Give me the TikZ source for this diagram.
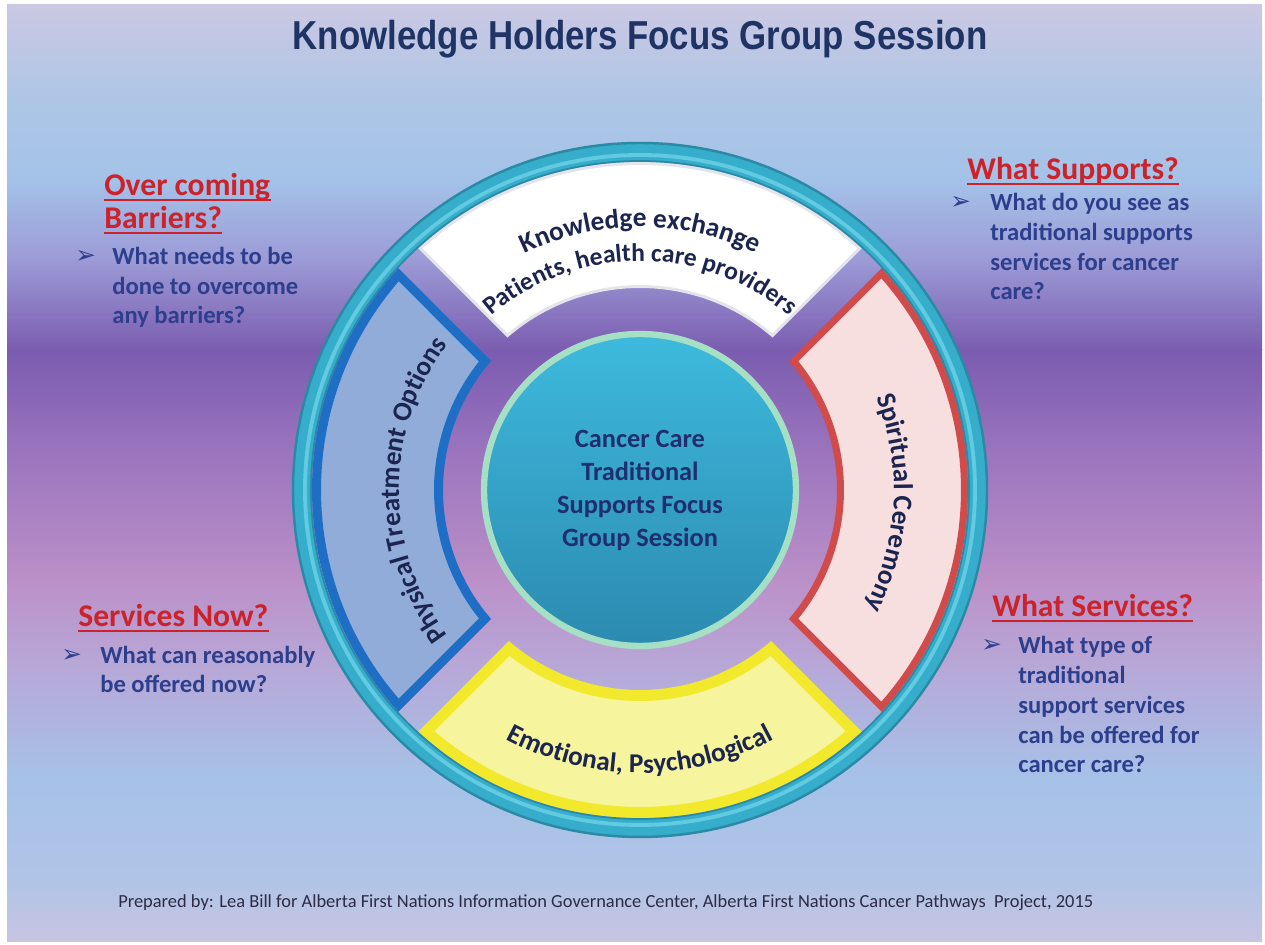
\documentclass[tikz,border=0pt]{standalone}
\usepackage{fontspec}
\setmainfont{Carlito}
\newfontfamily\titlefont{Liberation Sans}
\newfontfamily\symfont{DejaVu Sans}
\usetikzlibrary{decorations.text}
\definecolor{bgA}{HTML}{CBC8E3}
\definecolor{bgB}{HTML}{ADC6E6}
\definecolor{bgC}{HTML}{A4C2E8}
\definecolor{bgD}{HTML}{9C9AD6}
\definecolor{bgE}{HTML}{7B5CB0}
\definecolor{bgF}{HTML}{9A74BE}
\definecolor{bgG}{HTML}{BB90C8}
\definecolor{bgH}{HTML}{B8A6D6}
\definecolor{bgI}{HTML}{A6C2E8}
\definecolor{bgJ}{HTML}{B0C4E6}
\definecolor{bgK}{HTML}{C9C4E2}
\definecolor{titlec}{HTML}{1F3464}
\definecolor{headred}{HTML}{CC2229}
\definecolor{questc}{HTML}{2C3E8C}
\definecolor{segtext}{HTML}{1B2550}
\definecolor{centertext}{HTML}{1F2E6E}
\definecolor{footc}{HTML}{2B2B45}
\definecolor{segwhite}{HTML}{FFFFFF}
\definecolor{segwhiteline}{HTML}{E4E4EA}
\definecolor{segblue}{HTML}{92ACD9}
\definecolor{segblueline}{HTML}{1F6EC6}
\definecolor{segpink}{HTML}{F7DEDF}
\definecolor{segredline}{HTML}{D24B4B}
\definecolor{segyellow}{HTML}{F6F49C}
\definecolor{segyellowline}{HTML}{F2E82C}
\definecolor{ringc}{HTML}{36AECB}
\definecolor{ringdark}{HTML}{2A8AA6}
\definecolor{ringlight}{HTML}{62CBE2}
\definecolor{diskTop}{HTML}{3DBADD}
\definecolor{diskBot}{HTML}{2C8AB0}
\definecolor{rimgreen}{HTML}{A6E0C4}
\newcommand{\segfont}{\bfseries\fontsize{15.5}{18}\selectfont}
\newcommand{\segfontsm}{\bfseries\fontsize{14.5}{17}\selectfont}
% annular segment between two 45-degree gap bands
\newcommand{\ringseg}[6]{%
  \pgfmathsetmacro{\rsRi}{(#3)+(#6)/2}%
  \pgfmathsetmacro{\rsRo}{(#4)-(#6)/2}%
  \pgfmathsetmacro{\rsW}{(#5)+(#6)/2}%
  \pgfmathsetmacro{\rsLW}{(#6)*0.569}%
  \pgfmathsetmacro{\rsdA}{asin(\rsW/\rsRo)}%
  \pgfmathsetmacro{\rsdB}{asin(\rsW/\rsRi)}%
  \pgfmathsetmacro{\rsaOs}{(#2)+45-\rsdA}%
  \pgfmathsetmacro{\rsaOe}{(#2)-45+\rsdA}%
  \pgfmathsetmacro{\rsaIs}{(#2)-45+\rsdB}%
  \pgfmathsetmacro{\rsaIe}{(#2)+45-\rsdB}%
  \path[#1, line width=\rsLW pt] (\rsaOs:\rsRo) arc[start angle=\rsaOs, end angle=\rsaOe, radius=\rsRo]
    -- (\rsaIs:\rsRi) arc[start angle=\rsaIs, end angle=\rsaIe, radius=\rsRi] -- cycle;}
\tikzset{
  head/.style={font=\bfseries\fontsize{18}{21}\selectfont, text=headred, inner sep=0pt, anchor=base west},
  headline/.style={draw=headred, line width=1.1pt},
  quest/.style={font=\bfseries\fontsize{14}{17}\selectfont, text=questc, inner sep=0pt, align=left, anchor=base west},
  bulletmark/.style={font=\symfont\fontsize{14}{16}\selectfont, text=questc, inner sep=0pt, anchor=base west},
  segtxt/.style={decorate, decoration={text along path, text align=center, text color=segtext, text={#1}}}
}
\begin{document}
\begin{tikzpicture}[x=0.02cm,y=0.02cm]
\useasboundingbox (0,0) rectangle (1265,945);
\fill[white] (0,0) rectangle (1265,945);
% background gradient (y up: Y = 945 - py)
\shade[top color=bgA, bottom color=bgB] (7,940) rectangle (1262,844);
\shade[top color=bgB, bottom color=bgC] (7,845) rectangle (1262,764);
\shade[top color=bgC, bottom color=bgD] (7,765) rectangle (1262,684);
\shade[top color=bgD, bottom color=bgE] (7,685) rectangle (1262,594);
\shade[top color=bgE, bottom color=bgF] (7,595) rectangle (1262,494);
\shade[top color=bgF, bottom color=bgG] (7,495) rectangle (1262,364);
\shade[top color=bgG, bottom color=bgH] (7,365) rectangle (1262,284);
\shade[top color=bgH, bottom color=bgI] (7,285) rectangle (1262,164);
\shade[top color=bgI, bottom color=bgJ] (7,165) rectangle (1262,64);
\shade[top color=bgJ, bottom color=bgK] (7,65) rectangle (1262,3);

% title
\node[anchor=base, inner sep=0pt, text=titlec] (title) at (640,895)
  {\resizebox{13.9cm}{\height}{\titlefont\bfseries\fontsize{23}{27}\selectfont Knowledge Holders Focus Group Session}};

\begin{scope}[shift={(640,455)}]
  % segments
  \ringseg{fill=segwhite, draw=segwhiteline}{90}{202}{328}{14}{3}
  \ringseg{fill=segblue, draw=segblueline}{180}{197}{328}{14}{9}
  \ringseg{fill=segpink, draw=segredline}{0}{197}{328}{14}{7}
  \ringseg{fill=segyellow, draw=segyellowline}{270}{200}{328}{14}{11}
  % outer ring
  \draw[ringc, line width=10.4pt] (0,0) circle[radius=338];
  \draw[ringlight, line width=2.2pt] (0,0) circle[radius=335];
  \draw[ringdark, line width=1.4pt] (0,0) circle[radius=347];
  \draw[ringdark, line width=1pt] (0,0) circle[radius=329];
  % segment texts
  \path[segtxt={|\segfont|Knowledge exchange}] (135:263) arc[start angle=135, end angle=45, radius=263];
  \path[segtxt={|\segfontsm|Patients, health care providers}] (140:229) arc[start angle=140, end angle=40, radius=229];
  \path[segtxt={|\segfont|Physical Treatment Options}] (230:241) arc[start angle=230, end angle=130, radius=241];
  \path[segtxt={|\segfont|Spiritual Ceremony}] (42:254) arc[start angle=42, end angle=-48, radius=254];
  \path[segtxt={|\segfont|Emotional, Psychological}] (220:283) arc[start angle=220, end angle=320, radius=283];
  % center disk
  \draw[draw=ringdark!60, line width=0.8pt] (0,0) circle[radius=158];
  \node[circle, inner sep=0pt, outer sep=0pt, minimum size=6.24cm, draw=rimgreen, line width=3.6pt,
        top color=diskTop, bottom color=diskBot, align=center, text=centertext,
        font=\bfseries\fontsize{15}{18.8}\selectfont] (core) at (0,0)
        {Cancer Care\\Traditional\\Supports Focus\\Group Session};
\end{scope}

% top left (quest nodes anchored at the baseline of their last line)
\node[head] (h1) at (104,749) {Over coming};
\node[head] (h1b) at (104,716) {Barriers?};
\draw[headline] ([yshift=-2.4pt]h1.base west) -- ([yshift=-2.4pt]h1.base east);
\draw[headline] ([yshift=-2.4pt]h1b.base west) -- ([yshift=-2.4pt]h1b.base east);
\node[bulletmark] (b1) at (75,681) {➢};
\node[quest] (q1) at (112,621) {What needs to be\\done to overcome\\any barriers?};

% top right
\node[head] (h2) at (967,765) {What Supports?};
\draw[headline] ([yshift=-2.4pt]h2.base west) -- ([yshift=-2.4pt]h2.base east);
\node[bulletmark] (b2) at (950,735) {➢};
\node[quest] (q2) at (990,645) {What do you see as\\traditional supports\\services for cancer\\care?};

% bottom left
\node[head] (h3) at (78,318) {Services Now?};
\draw[headline] ([yshift=-2.4pt]h3.base west) -- ([yshift=-2.4pt]h3.base east);
\node[bulletmark] (b3) at (61,282) {➢};
\node[quest] (q3) at (100,252) {What can reasonably\\be offered now?};

% bottom right
\node[head] (h4) at (992,328) {What Services?};
\draw[headline] ([yshift=-2.4pt]h4.base west) -- ([yshift=-2.4pt]h4.base east);
\node[bulletmark] (b4) at (981,292) {➢};
\node[quest] (q4) at (1018,172) {What type of\\traditional\\support services\\can be offered for\\cancer care?};

% footer
\node[anchor=base west, inner sep=0pt, text=footc] (foot) at (118,37)
  {\resizebox{19.5cm}{\height}{\fontsize{10.5}{12}\selectfont Prepared by: Lea Bill for Alberta First Nations Information Governance Center, Alberta First Nations Cancer Pathways~ Project, 2015}};
\end{tikzpicture}
\end{document}
